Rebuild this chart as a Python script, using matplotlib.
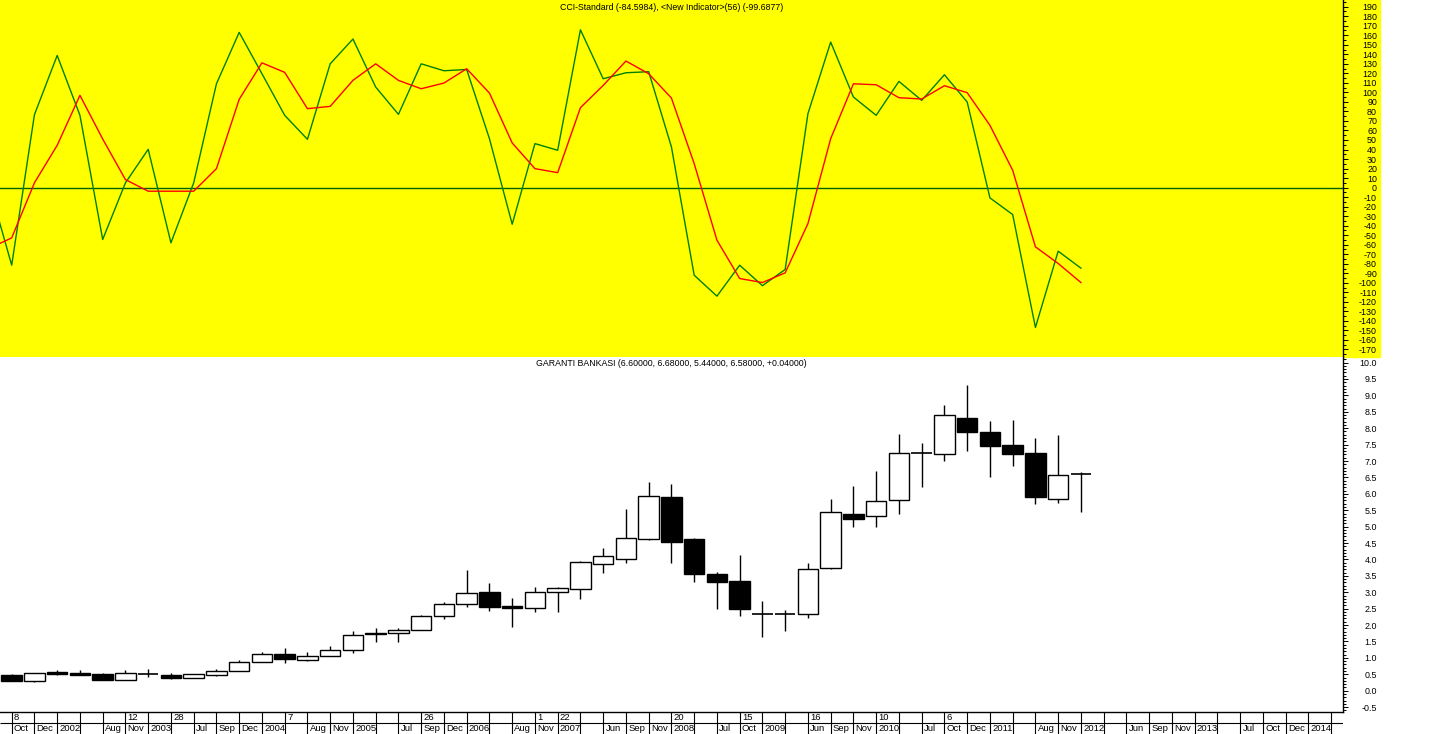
import numpy as np
import matplotlib
matplotlib.use('Agg')
import matplotlib.pyplot as plt
from matplotlib.patches import Rectangle

plt.rcParams['font.family'] = ['Liberation Sans', 'DejaVu Sans']
plt.rcParams['axes.unicode_minus'] = False

# quarterly candles, GARANTI BANKASI
opens  = [0.47,0.28,0.56,0.53,0.50,0.34,0.50,0.47,0.39,0.48,0.59,0.86,1.11,0.95,1.05,1.23,
          1.76,1.75,1.84,2.27,2.63,3.00,2.58,2.51,3.00,3.09,3.85,4.00,4.61,5.90,4.62,3.55,
          3.34,2.33,2.33,2.33,3.73,5.39,5.32,5.80,7.24,7.21,8.31,7.89,7.49,7.25,5.83,6.60]
highs  = [0.50,0.53,0.62,0.62,0.53,0.63,0.65,0.53,0.50,0.65,0.95,1.18,1.29,1.18,1.36,1.82,
          1.91,1.92,2.31,2.70,3.68,3.28,2.82,3.16,3.17,3.95,4.35,5.55,6.36,6.30,4.66,3.62,
          4.14,2.73,2.46,3.89,5.84,6.25,6.70,7.83,7.55,8.71,9.32,8.22,8.25,7.71,7.80,6.68]
lows   = [0.28,0.27,0.48,0.48,0.33,0.34,0.42,0.35,0.39,0.45,0.59,0.86,0.83,0.89,1.05,1.14,
          1.49,1.49,1.84,2.17,2.55,2.44,1.95,2.39,2.41,2.78,3.60,3.90,4.58,3.90,3.32,2.50,
          2.27,1.64,1.83,2.22,3.70,5.00,5.00,5.40,6.22,7.01,7.32,6.52,6.86,5.70,5.73,5.44]
closes = [0.28,0.53,0.52,0.49,0.33,0.53,0.50,0.40,0.50,0.59,0.86,1.11,0.97,1.05,1.23,1.69,
          1.72,1.84,2.27,2.63,2.97,2.54,2.51,3.00,3.12,3.92,4.10,4.64,5.92,4.54,3.57,3.32,
          2.50,2.33,2.33,3.70,5.44,5.22,5.77,7.24,7.24,8.40,7.87,7.47,7.22,5.91,6.57,6.58]

# CCI (green) and its average (red), first value is the bar before the window
cci = [3, -81.5, 76.6, 138.8, 75.9, -54.5, 5, 40.2, -58, 5, 109, 163, 119.6, 75.9, 50.7, 130,
       156, 105.6, 76.9, 130, 122.7, 124, 51.4, -38.5, 46.2, 39.2, 165.7, 114.3, 120.6, 121.7,
       42.7, -92, -114, -81.5, -103, -86, 77.6, 152.8, 95.1, 75.9, 111.5, 91.6, 118.5, 89.9,
       -10.8, -28.3, -146.9, -66.8, -84.6]
sig = [-64, -52.8, 5, 44.4, 96.9, 51, 8.4, -3.8, -3.8, -3.8, 19.9, 92.7, 131, 121, 82.9, 85.3,
       112.6, 130, 112.6, 103.8, 109.8, 124.8, 99.3, 46.9, 19.9, 15.7, 83.9, 107.3, 132.9, 119.6,
       94, 25.2, -55.2, -95.5, -99.7, -89.5, -37.8, 51.4, 109, 108, 94.4, 93, 107, 99.7,
       65.4, 18.2, -62.2, -79.7, -99.7]

months = ["Oct","Dec","2002","","Aug","Nov","2003","","Jul","Sep","Dec","2004","","Aug","Nov",
          "2005","","Jul","Sep","Dec","2006","","Aug","Nov","2007","","Jun","Sep","Nov","2008",
          "","Jul","Oct","2009","","Jun","Sep","Nov","2010","","Jul","Oct","Dec","2011","",
          "Aug","Nov","2012","","Jun","Sep","Nov","2013","","Jul","Oct","Dec","2014"]
day_pos = [0, 5, 7, 12, 18, 23, 24, 29, 32, 35, 38, 41]
day_txt = ["8", "12", "28", "7", "26", "1", "22", "20", "15", "16", "10", "6"]

W, H = 1434, 734
def rect(x0, y0, x1, y1):
    return [x0/W, 1-y1/H, (x1-x0)/W, (y1-y0)/H]

XL = (-0.514, 58.52)
YEL = '#ffff00'

fig = plt.figure(figsize=(W/100, H/100), dpi=100)
# yellow band behind the CCI panel and its axis labels
fig.patches.append(Rectangle((0, 1-357/H), 1380/W, 357/H, transform=fig.transFigure,
                             color=YEL, zorder=-5))

# ---- CCI panel
ax1 = fig.add_axes(rect(0, 0, 1343, 357))
ax1.set_facecolor(YEL)
ax1.set_xlim(XL)
ax1.set_ylim(-177.9, 197)
ax1.axhline(0, color='#006400', lw=1.0, zorder=1)
xl = np.arange(-1, len(opens))
ax1.plot(xl, cci, color='#008000', lw=1.0, zorder=2)
ax1.plot(xl, sig, color='#ff0000', lw=1.0, zorder=3)
ax1.set_yticks(np.arange(-170, 191, 10))
ax1.set_yticks(np.arange(-175, 196, 5), minor=True)
ax1.set_xticks([])
ax1.text(0.5, 1-7/357, "CCI-Standard (-84.5984), <New Indicator>(56) (-99.6877)",
         transform=ax1.transAxes, ha='center', va='center', fontsize=6.3)

# ---- price panel
ax2 = fig.add_axes(rect(0, 357, 1343, 712))
ax2.set_facecolor('white')
ax2.set_xlim(XL)
ax2.set_ylim(-0.65, 10.17)
x = np.arange(len(opens))
o = np.array(opens); c = np.array(closes)
ax2.vlines(x, lows, highs, color='k', lw=1.0, zorder=2)
body = np.abs(c-o) >= 0.03
fc = ['k' if cc < oo else 'white' for oo, cc in zip(o[body], c[body])]
ax2.bar(x[body], np.abs(c-o)[body], 0.9, bottom=np.minimum(o, c)[body],
        color=fc, edgecolor='k', lw=1.0, zorder=3)
ax2.hlines(o[~body], x[~body]-0.45, x[~body]+0.45, color='k', lw=1.2, zorder=3)
ax2.set_yticks(np.arange(-0.5, 10.01, 0.5))
ax2.set_yticklabels(['%.1f' % v for v in np.arange(-0.5, 10.01, 0.5)])
ax2.set_yticks(np.arange(-0.6, 10.15, 0.1), minor=True)
ax2.set_xticks([])
ax2.text(0.5, 1-7/355, "GARANTI BANKASI (6.60000, 6.68000, 5.44000, 6.58000, +0.04000)",
         transform=ax2.transAxes, ha='center', va='center', fontsize=6.3)

for ax in (ax1, ax2):
    ax.yaxis.tick_right()
    ax.tick_params(axis='y', which='major', direction='out', length=3.6, width=0.7,
                   labelsize=6.4, pad=20.9, colors='k')
    ax.tick_params(axis='y', which='minor', direction='out', length=2.0, width=0.7)
    plt.setp(ax.get_yticklabels(), ha='right')
    for s in ('top', 'left', 'bottom'):
        ax.spines[s].set_visible(False)
    ax.spines['right'].set_linewidth(1.0)
ax2.spines['bottom'].set_visible(True)
ax2.spines['bottom'].set_linewidth(1.0)

# ---- date table under the chart
ax3 = fig.add_axes(rect(0, 712, 1343, 734))
ax3.set_xlim(XL)
ax3.set_ylim(22, 0)
ax3.axis('off')
ax3.vlines(np.arange(0, 59), 0, 22, color='k', lw=0.8)
ax3.hlines(10.7, XL[0], XL[1], color='k', lw=0.8)
for i, t in enumerate(months):
    ax3.text(i+0.1, 16.8, t, ha='left', va='center', fontsize=6.8)
for i, t in zip(day_pos, day_txt):
    ax3.text(i+0.1, 5.6, t, ha='left', va='center', fontsize=6.8)

fig.savefig('out.png', dpi=100)
